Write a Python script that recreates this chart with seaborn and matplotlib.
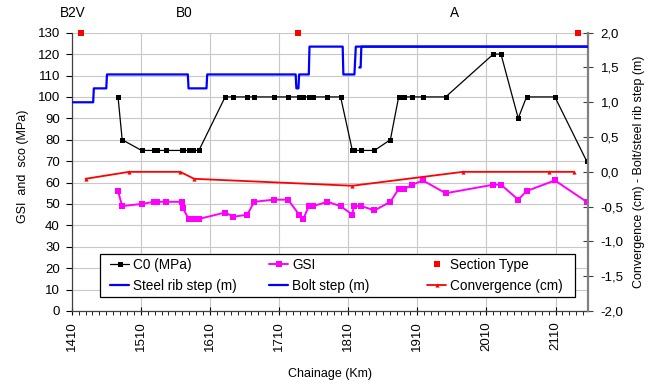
import matplotlib
matplotlib.use("Agg")
import matplotlib.pyplot as plt
import matplotlib.ticker as mticker
import matplotlib.transforms as mtrans
from matplotlib.lines import Line2D
from matplotlib.patches import Rectangle
from matplotlib.legend import Legend
import seaborn as sns

# ---------------- data ----------------
chainage = [1477, 1483, 1511, 1529, 1534, 1547, 1569, 1571, 1579, 1586, 1594,
            1632, 1644, 1664, 1674, 1702, 1723, 1739, 1745, 1753, 1759, 1780, 1799,
            1816, 1818, 1829, 1848, 1871, 1883, 1891, 1903, 1918, 1951,
            2020, 2031, 2056, 2068, 2109, 2155]
c0 = [100, 80, 75, 75, 75, 75, 75, 75, 75, 75, 75,
      100, 100, 100, 100, 100, 100, 100, 100, 100, 100, 100, 100,
      75, 75, 75, 75, 80, 100, 100, 100, 100, 100,
      120, 120, 90, 100, 100, 70]
gsi = [56, 49, 50, 51, 51, 51, 51, 48, 43, 43, 43,
       46, 44, 45, 51, 52, 52, 45, 43, 49, 49, 51, 49,
       45, 49, 49, 47, 51, 57, 57, 59, 61, 55,
       59, 59, 52, 56, 61, 51]

rib_km = [1410, 1441, 1442, 1460, 1461, 1578, 1579, 1605, 1606, 1734, 1735, 1738, 1739,
          1753, 1754, 1802, 1803, 1819, 1821, 2156]
rib_step = [1.0, 1.0, 1.2, 1.2, 1.4, 1.4, 1.2, 1.2, 1.4, 1.4, 1.2, 1.2, 1.4,
            1.4, 1.8, 1.8, 1.4, 1.4, 1.8, 1.8]

bolt_km = [1826, 1828, 1829, 2156]
bolt_step = [1.5, 1.5, 1.8, 1.8]

conv_km = [1430, 1493, 1567, 1587, 1816, 1976, 2100, 2136]
convergence = [-0.1, 0.0, 0.0, -0.1, -0.2, 0.0, 0.0, 0.0]

section_km = [1424, 1737, 2143]
section_val = [130, 130, 130]
section_labels = ["B2V", "B0", "A"]
section_label_km = [1411, 1573, 1964]

x_ticks = [1410, 1510, 1610, 1710, 1810, 1910, 2010, 2110]

# ---------------- style ----------------
sns.set_theme(style="ticks", rc={
    "text.color": "black", "axes.labelcolor": "black",
    "xtick.color": "black", "ytick.color": "black",
})
plt.rcParams['font.family'] = ['Liberation Sans', 'DejaVu Sans']

fig = plt.figure(figsize=(6.58, 3.87), dpi=100)
ax = fig.add_axes([0.109, 0.1964, 0.7847, 0.7191])
ax2 = ax.twinx()

FS = 9.5
LFS = 9.8
GRID = '#c8c8c8'

# left axis series
sns.lineplot(x=chainage, y=c0, ax=ax, sort=False, estimator=None, color='black',
             linewidth=0.9, marker='s', markersize=3.6, markeredgewidth=0, zorder=4)
sns.lineplot(x=chainage, y=gsi, ax=ax, sort=False, estimator=None, color='#ff00ff',
             linewidth=1.4, marker='s', markersize=4.2, markeredgewidth=0, zorder=3)
sns.scatterplot(x=section_km, y=section_val, ax=ax, marker='s', color='#ff0000',
                s=14, linewidth=0, clip_on=False, zorder=6)

# right axis series
sns.lineplot(x=rib_km, y=rib_step, ax=ax2, sort=False, estimator=None, color='#0000ff',
             linewidth=1.6, zorder=3)
sns.lineplot(x=bolt_km, y=bolt_step, ax=ax2, sort=False, estimator=None, color='#0000ff',
             linewidth=1.6, zorder=3)
sns.lineplot(x=conv_km, y=convergence, ax=ax2, sort=False, estimator=None, color='#ff0000',
             linewidth=1.3, marker='^', markersize=3, markeredgewidth=0, zorder=3)

# limits
ax.set_xlim(1410, 2157)
ax.set_ylim(0, 130)
ax2.set_ylim(-2.0, 2.0)

# ticks
ax.xaxis.set_major_locator(mticker.FixedLocator(x_ticks))
ax.xaxis.set_minor_locator(mticker.MultipleLocator(10))
ax.yaxis.set_major_locator(mticker.MultipleLocator(10))
ax2.yaxis.set_major_locator(mticker.MultipleLocator(0.5))
ax2.yaxis.set_major_formatter(mticker.FuncFormatter(lambda v, p: f"{v:.1f}".replace('.', ',')))

ax.tick_params(axis='x', which='major', direction='inout', length=6, width=0.8,
               labelsize=FS, labelrotation=90, pad=4.5)
ax.tick_params(axis='x', which='minor', direction='out', length=3, width=0.6)
ax.tick_params(axis='y', which='major', direction='out', length=4, width=0.8,
               labelsize=FS, pad=4.5)
ax2.tick_params(axis='y', which='major', direction='inout', length=7, width=0.8,
                labelsize=FS, pad=5.5, color='#404040')

ax.grid(True, which='major', color=GRID, linewidth=0.8)
ax.set_axisbelow(True)

for s in ['top', 'right']:
    ax.spines[s].set_visible(False)
for s in ['top', 'left', 'bottom']:
    ax2.spines[s].set_visible(False)
ax.spines['left'].set_color('#404040')
ax.spines['bottom'].set_color('#404040')
ax.spines['left'].set_linewidth(0.9)
ax.spines['bottom'].set_linewidth(0.9)
ax2.spines['right'].set_color('#808080')
ax2.spines['right'].set_linewidth(1.6)

# labels
ax.set_xlabel("Chainage (Km)", fontsize=9)
ax.xaxis.set_label_coords(0.5, -0.205)
ax.set_ylabel("GSI  and  sco (MPa)", fontsize=9)
ax.yaxis.set_label_coords(-0.082, 0.52)
ax2.set_ylabel("Convergence (cm) - Bolt/steel rib step (m)", fontsize=9)
ax2.yaxis.set_label_coords(1.087, 0.5)

# section type labels
trans = mtrans.blended_transform_factory(ax.transData, ax.transAxes)
for km, lbl in zip(section_label_km, section_labels):
    ax.text(km, 1.071, lbl, transform=trans, ha='center', va='center', fontsize=LFS)

# legend (custom 3-column layout with a single frame)
frame = Rectangle((0.0548, 0.0503), 0.92, 0.1545, transform=ax2.transAxes,
                  facecolor='white', edgecolor='black', linewidth=0.9, zorder=8)
ax2.add_patch(frame)

h_c0 = Line2D([], [], color='black', lw=0.9, marker='s', ms=3.6, mew=0)
h_gsi = Line2D([], [], color='#ff00ff', lw=1.4, marker='s', ms=4.2, mew=0)
h_sec = Line2D([], [], color='#ff0000', lw=0, marker='s', ms=4, mew=0)
h_rib = Line2D([], [], color='#0000ff', lw=1.6)
h_bolt = Line2D([], [], color='#0000ff', lw=1.6)
h_conv = Line2D([], [], color='#ff0000', lw=1.3, marker='^', ms=3, mew=0)

cols = [
    ([h_c0, h_rib], ["C0 (MPa)", "Steel rib step (m)"], 0.0742),
    ([h_gsi, h_bolt], ["GSI", "Bolt step (m)"], 0.3823),
    ([h_sec, h_conv], ["Section Type", "Convergence (cm)"], 0.6882),
]
for hs, ls, xpos in cols:
    leg = Legend(ax2, hs, ls, loc='center left', bbox_to_anchor=(xpos, 0.1276),
                 bbox_transform=ax2.transAxes,
                 frameon=False, fontsize=LFS, borderpad=0, borderaxespad=0,
                 handlelength=1.4, handletextpad=0.3, labelspacing=0.5)
    leg.set_zorder(9)
    ax2.add_artist(leg)

fig.savefig("out.png", dpi=100)
